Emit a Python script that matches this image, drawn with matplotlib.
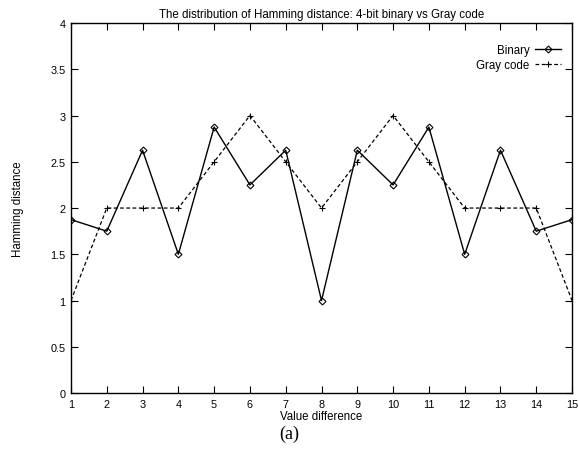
import matplotlib
matplotlib.use("Agg")
import matplotlib.pyplot as plt
import numpy as np

plt.rcParams['font.family'] = ['Liberation Sans', 'DejaVu Sans']

diff = list(range(1, 16))
binary = [1.875, 1.75, 2.625, 1.5, 2.875, 2.25, 2.625, 1.0,
          2.625, 2.25, 2.875, 1.5, 2.625, 1.75, 1.875]
gray = [1, 2, 2, 2, 2.5, 3, 2.5, 2, 2.5, 3, 2.5, 2, 2, 2, 1]
yticks = [0, 0.5, 1, 1.5, 2, 2.5, 3, 3.5, 4]
ytick_labels = ['0', '0.5', '1', '1.5', '2', '2.5', '3', '3.5', '4']

fig = plt.figure(figsize=(5.79, 4.52), dpi=100)
ax = fig.add_axes([0.1226, 0.128, 0.8654, 0.819])

ax.plot(diff, binary, color='black', lw=1.0, marker='D', markersize=3.5,
        markerfacecolor='none', markeredgewidth=0.8, label='Binary')
ax.plot(diff, gray, color='black', lw=0.9, ls=(0, (3, 2)), marker='+',
        markersize=5, markeredgewidth=0.8, label='Gray code')

ax.set_xlim(1, 15)
ax.set_ylim(0, 4)
ax.set_xticks(diff)
ax.set_yticks(yticks)
ax.set_yticklabels(ytick_labels)
ax.tick_params(direction='in', top=True, right=True, length=5, width=0.8,
               labelsize=7.8, pad=4)
for s in ax.spines.values():
    s.set_linewidth(1.0)

ax.set_title('The distribution of Hamming distance: 4-bit binary vs Gray code',
             fontsize=8.3, pad=4)
ax.set_xlabel('Value difference', fontsize=8.3, labelpad=1)
ax.set_ylabel('Hamming distance', fontsize=8.3, labelpad=19)

leg = ax.legend(loc='upper right', bbox_to_anchor=(1.0, 0.973),
                markerfirst=False, frameon=False,
                fontsize=8.3, handlelength=2.2, handletextpad=0.5,
                labelspacing=0.2, borderaxespad=0.6)
for t in leg.get_texts():
    t.set_ha('right')

fig.text(0.5, 0.02, '(a)', ha='center', va='bottom', fontsize=13,
         family=['Liberation Serif', 'DejaVu Serif'])

fig.savefig('out.png', dpi=100)
